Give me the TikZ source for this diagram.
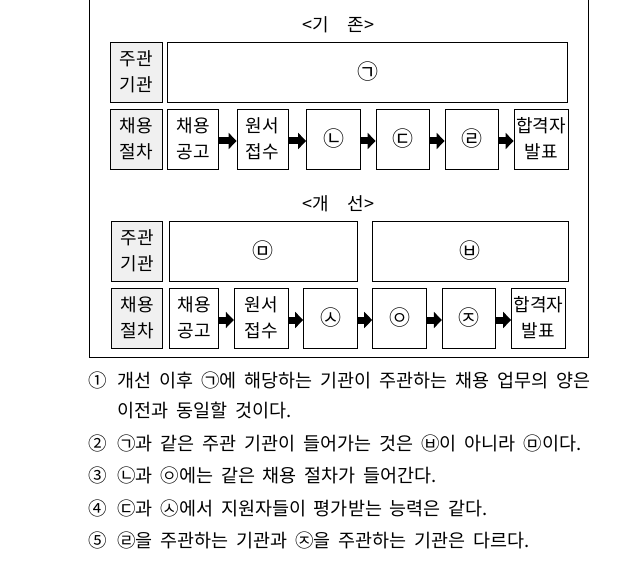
\documentclass[tikz,border=0pt]{standalone}
\usepackage{fontspec}
\usetikzlibrary{arrows.meta}
\newfontfamily\kr{Noto Sans CJK KR}
\newfontfamily\krword{Noto Sans CJK KR}[WordSpace=1.9]
\newcommand\boxfont{\kr\fontsize{18}{26}\selectfont}
\newcommand\markfont{\kr\fontsize{21}{26}\selectfont}
\newcommand\stmtfont{\krword\fontsize{18.5}{20}\selectfont}

\begin{document}
\begin{tikzpicture}[x=1pt, y=-1pt,
		rowhead/.style={rectangle, draw=black, line width=0.8pt, fill=black!6, minimum width=52pt, minimum height=60pt, inner sep=0pt, align=center, font=\boxfont},
		itembox/.style={rectangle, draw=black, line width=0.8pt, minimum height=60pt, inner sep=0pt, align=center, font=\boxfont},
		markbox/.style={itembox, font=\markfont},
		flow/.style={line width=7pt, -{Triangle[length=8pt,width=16pt]}},
		stmt/.style={anchor=base west, inner sep=0pt, font=\stmtfont}]
		\useasboundingbox (0,0) rectangle (624,580);

		% outer frame (top edge lies above the page)
		\draw[line width=0.8pt] (89,0) -- (89,357) -- (588,357) -- (588,0);

		% before
		\node[font=\boxfont](oldTitle) at (338.5,25){<기　존>};
		\node[rowhead](oldHeadBox) at (136.5,72){주관\\기관};
		\node[markbox, minimum width=400pt](oldAgencyBox) at (367.75,72){㉠};
		\node[rowhead](oldStepBox) at (136.5,139){채용\\절차};
		\node[itembox, minimum width=51pt](oldStep1Box) at (193.1,139){채용\\공고};
		\node[itembox, minimum width=51pt](oldStep2Box) at (262.5,139){원서\\접수};
		\node[markbox, minimum width=54pt](oldStep3Box) at (333.5,139){㉡};
		\node[markbox, minimum width=53pt](oldStep4Box) at (402.5,139){㉢};
		\node[markbox, minimum width=53.5pt](oldStep5Box) at (471.75,139){㉣};
		\node[itembox, minimum width=54pt](oldStep6Box) at (541,139){합격자\\발표};

		\draw[flow] ([yshift=-2pt]oldStep1Box.east) -- ([yshift=-2pt]oldStep2Box.west);
		\draw[flow] ([yshift=-2pt]oldStep2Box.east) -- ([yshift=-2pt]oldStep3Box.west);
		\draw[flow] ([yshift=-2pt]oldStep3Box.east) -- ([yshift=-2pt]oldStep4Box.west);
		\draw[flow] ([yshift=-2pt]oldStep4Box.east) -- ([yshift=-2pt]oldStep5Box.west);
		\draw[flow] ([yshift=-2pt]oldStep5Box.east) -- ([yshift=-2pt]oldStep6Box.west);

		% after
		\node[font=\boxfont](newTitle) at (338.5,204){<개　선>};
		\node[rowhead, minimum width=51pt](newHeadBox) at (137.2,251){주관\\기관};
		\node[markbox, minimum width=188pt](newAgency1Box) at (263.4,251){㉤};
		\node[markbox, minimum width=195.5pt](newAgency2Box) at (470.25,251){㉥};
		\node[rowhead, minimum width=51pt](newStepBox) at (137.2,318){채용\\절차};
		\node[itembox, minimum width=49.5pt](newStep1Box) at (194,318){채용\\공고};
		\node[itembox, minimum width=54pt](newStep2Box) at (261.2,318){원서\\접수};
		\node[markbox, minimum width=54pt](newStep3Box) at (330.5,318){㉦};
		\node[markbox, minimum width=54pt](newStep4Box) at (399.6,318){㉧};
		\node[markbox, minimum width=53.5pt](newStep5Box) at (469,318){㉨};
		\node[itembox, minimum width=54pt](newStep6Box) at (538.5,318){합격자\\발표};

		\draw[flow] ([yshift=-2pt]newStep1Box.east) -- ([yshift=-2pt]newStep2Box.west);
		\draw[flow] ([yshift=-2pt]newStep2Box.east) -- ([yshift=-2pt]newStep3Box.west);
		\draw[flow] ([yshift=-2pt]newStep3Box.east) -- ([yshift=-2pt]newStep4Box.west);
		\draw[flow] ([yshift=-2pt]newStep4Box.east) -- ([yshift=-2pt]newStep5Box.west);
		\draw[flow] ([yshift=-2pt]newStep5Box.east) -- ([yshift=-2pt]newStep6Box.west);

		% choices
		\node[stmt](choice1Num) at (88,387){①};
		\node[stmt](choice1Text) at (117,387){개선 이후 ㉠에 해당하는 기관이 주관하는 채용 업무의 양은};
		\node[stmt](choice1More) at (117,417){이전과 동일할 것이다.};
		\node[stmt](choice2Num) at (88,450){②};
		\node[stmt](choice2Text) at (117,450){㉠과 같은 주관 기관이 들어가는 것은 ㉥이 아니라 ㉤이다.};
		\node[stmt](choice3Num) at (88,482){③};
		\node[stmt](choice3Text) at (117,482){㉡과 ㉧에는 같은 채용 절차가 들어간다.};
		\node[stmt](choice4Num) at (88,515){④};
		\node[stmt](choice4Text) at (117,515){㉢과 ㉦에서 지원자들이 평가받는 능력은 같다.};
		\node[stmt](choice5Num) at (88,547){⑤};
		\node[stmt](choice5Text) at (117,547){㉣을 주관하는 기관과 ㉨을 주관하는 기관은 다르다.};
\end{tikzpicture}
\end{document}
